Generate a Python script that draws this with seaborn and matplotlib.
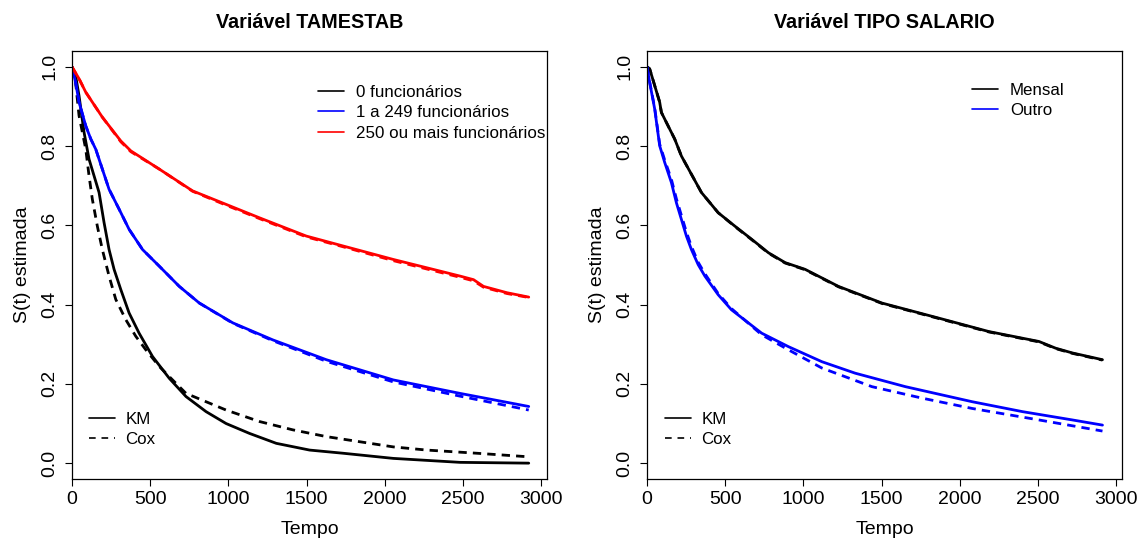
import numpy as np
import pandas as pd
import matplotlib
matplotlib.use("Agg")
import matplotlib.pyplot as plt
from matplotlib.lines import Line2D
import seaborn as sns

# ---------------- data ----------------
# Panel 1: TAMESTAB
t_km0 = [0, 23, 45, 77, 109, 173, 205, 237, 269, 312, 365, 429, 515, 622, 729, 857,
         985, 1135, 1306, 1519, 1733, 2054, 2481, 2920]
s_km0 = [1.0, 0.978, 0.927, 0.835, 0.767, 0.683, 0.607, 0.539, 0.489, 0.438, 0.379,
         0.328, 0.269, 0.214, 0.168, 0.130, 0.100, 0.075, 0.050, 0.033, 0.025, 0.012,
         0.002, 0.0]
t_cox0 = [0, 23, 45, 88, 109, 130, 162, 194, 237, 280, 344, 408, 472, 558, 643, 729,
          857, 985, 1199, 1412, 1626, 1840, 2054, 2268, 2588, 2920]
s_cox0 = [1.0, 0.961, 0.877, 0.792, 0.725, 0.666, 0.598, 0.539, 0.472, 0.413, 0.362,
          0.320, 0.286, 0.244, 0.210, 0.176, 0.155, 0.134, 0.105, 0.084, 0.067, 0.054,
          0.041, 0.033, 0.025, 0.016]

t_km1 = [0, 23, 45, 88, 120, 152, 194, 237, 301, 365, 451, 558, 686, 814, 1028, 1284,
         1626, 2054, 2481, 2920]
s_km1 = [1.0, 0.961, 0.911, 0.851, 0.818, 0.792, 0.742, 0.691, 0.641, 0.590, 0.539,
         0.497, 0.446, 0.404, 0.354, 0.311, 0.261, 0.210, 0.176, 0.143]
t_cox1 = t_km1
s_cox1 = [1.0, 0.961, 0.911, 0.851, 0.818, 0.792, 0.742, 0.691, 0.641, 0.590, 0.539,
          0.497, 0.446, 0.404, 0.353, 0.309, 0.257, 0.205, 0.169, 0.134]

t_km2 = [0, 45, 88, 194, 312, 376, 558, 771, 985, 1199, 1498, 1733, 2054, 2268, 2481,
         2567, 2631, 2781, 2920]
s_km2 = [1.0, 0.970, 0.936, 0.873, 0.813, 0.788, 0.742, 0.687, 0.653, 0.619, 0.573,
         0.548, 0.514, 0.493, 0.472, 0.463, 0.446, 0.430, 0.419]
t_cox2 = t_km2
s_cox2 = [1.0, 0.970, 0.936, 0.873, 0.811, 0.786, 0.742, 0.686, 0.651, 0.617, 0.571,
          0.546, 0.511, 0.490, 0.469, 0.460, 0.444, 0.428, 0.418]

# Panel 2: TIPO SALARIO
t_kmM = [0, 17, 49, 81, 92, 135, 177, 220, 284, 348, 455, 562, 669, 776, 883, 1011,
         1224, 1502, 1865, 2186, 2506, 2613, 2720, 2912]
s_kmM = [1.0, 0.995, 0.953, 0.911, 0.885, 0.851, 0.818, 0.775, 0.729, 0.683, 0.632,
         0.598, 0.565, 0.531, 0.506, 0.489, 0.446, 0.404, 0.366, 0.332, 0.307, 0.290,
         0.278, 0.261]
t_coxM = t_kmM
s_coxM = [1.0, 0.995, 0.953, 0.911, 0.885, 0.851, 0.818, 0.775, 0.729, 0.683, 0.632,
          0.597, 0.564, 0.530, 0.505, 0.488, 0.445, 0.403, 0.365, 0.331, 0.306, 0.289,
          0.277, 0.260]

t_kmO = [0, 17, 49, 81, 113, 156, 188, 220, 252, 284, 327, 370, 455, 540, 733, 904,
         1118, 1331, 1652, 2079, 2400, 2720, 2912]
s_kmO = [1.0, 0.961, 0.894, 0.801, 0.759, 0.708, 0.657, 0.615, 0.573, 0.539, 0.501,
         0.472, 0.425, 0.387, 0.328, 0.294, 0.256, 0.227, 0.193, 0.155, 0.130, 0.109,
         0.096]
t_coxO = [0, 17, 49, 81, 113, 156, 188, 220, 252, 284, 327, 370, 455, 540, 733, 904,
          1118, 1438, 1759, 2079, 2506, 2912]
s_coxO = [1.0, 0.962, 0.897, 0.805, 0.765, 0.716, 0.667, 0.625, 0.583, 0.547, 0.507,
          0.478, 0.428, 0.390, 0.324, 0.286, 0.240, 0.193, 0.164, 0.138, 0.109, 0.081]

groups1 = ["0 funcionários", "1 a 249 funcionários", "250 ou mais funcionários"]
colors1 = ["black", "blue", "red"]
groups2 = ["Mensal", "Outro"]
colors2 = ["black", "blue"]
methods = ["KM", "Cox"]

titles = ["Variável TAMESTAB", "Variável TIPO SALARIO"]
xticks = [0, 500, 1000, 1500, 2000, 2500, 3000]
yticks = [0.0, 0.2, 0.4, 0.6, 0.8, 1.0]


def long_df(series):
    rows = []
    for grp, meth, t, s in series:
        for ti, si in zip(t, s):
            rows.append({"Tempo": ti, "S": si, "grupo": grp, "metodo": meth})
    return pd.DataFrame(rows)


df1 = long_df([
    (groups1[0], "KM", t_km0, s_km0), (groups1[0], "Cox", t_cox0, s_cox0),
    (groups1[1], "KM", t_km1, s_km1), (groups1[1], "Cox", t_cox1, s_cox1),
    (groups1[2], "KM", t_km2, s_km2), (groups1[2], "Cox", t_cox2, s_cox2),
])
df2 = long_df([
    (groups2[0], "KM", t_kmM, s_kmM), (groups2[0], "Cox", t_coxM, s_coxM),
    (groups2[1], "KM", t_kmO, s_kmO), (groups2[1], "Cox", t_coxO, s_coxO),
])

# ---------------- style ----------------
sns.set_theme(style="white")
plt.rcParams["font.family"] = ["Liberation Sans", "DejaVu Sans"]
plt.rcParams["text.color"] = "black"
plt.rcParams["axes.labelcolor"] = "black"
plt.rcParams["xtick.color"] = "black"
plt.rcParams["ytick.color"] = "black"
plt.rcParams["axes.edgecolor"] = "black"

fig = plt.figure(figsize=(11.4, 5.39), dpi=100)
W, H = 1140, 539
ax1 = fig.add_axes([72 / W, 1 - 479 / H, 475 / W, 428 / H])
ax2 = fig.add_axes([647 / W, 1 - 479 / H, 475 / W, 428 / H])

dash_map = {"KM": "", "Cox": (3, 2.2)}
LEG_FS = 12.2

for ax, df, groups, colors, title, gx, gy, mx in [
    (ax1, df1, groups1, colors1, titles[0], 0.518, 0.921, 0.036),
    (ax2, df2, groups2, colors2, titles[1], 0.684, 0.926, 0.038),
]:
    sns.lineplot(data=df, x="Tempo", y="S", hue="grupo", style="metodo",
                 hue_order=groups, palette=colors, style_order=methods,
                 dashes=dash_map, estimator=None, sort=True, linewidth=2,
                 legend=False, ax=ax)
    ax.set_xlim(0, 2920 * 1.04)
    ax.set_ylim(-0.04, 1.04)
    ax.set_xticks(xticks)
    ax.set_yticks(yticks)
    ax.set_xticklabels([str(v) for v in xticks])
    ax.set_yticklabels([f"{v:.1f}" for v in yticks], rotation=90, va="center")
    ax.tick_params(axis="x", direction="out", length=5, width=0.8,
                   colors="black", labelsize=14, pad=4, bottom=True)
    ax.tick_params(axis="y", direction="out", length=5, width=0.8,
                   colors="black", labelsize=14, pad=5, left=True)
    for sp in ax.spines.values():
        sp.set_visible(True)
        sp.set_color("black")
        sp.set_linewidth(0.9)
    ax.set_xlabel("Tempo", fontsize=14, labelpad=9)
    ax.set_ylabel("S(t) estimada", fontsize=14, labelpad=7)
    ax.set_title(title, fontsize=14.2, fontweight="bold", pad=16.5)

    # group legend (top right)
    h_groups = [Line2D([], [], color=c, lw=1.2) for c in colors]
    lg = ax.legend(h_groups, groups, loc="upper left",
                   bbox_to_anchor=(gx, gy), frameon=False, fontsize=LEG_FS,
                   handlelength=1.55, handletextpad=0.7, labelspacing=0.33,
                   borderpad=0, borderaxespad=0)
    ax.add_artist(lg)

    # method legend (bottom left)
    h_meth = [Line2D([], [], color="black", lw=1.2, linestyle="-"),
              Line2D([], [], color="black", lw=1.2, linestyle=(0, (4, 3.5)))]
    ax.legend(h_meth, methods, loc="upper left",
              bbox_to_anchor=(mx, 0.157), frameon=False, fontsize=LEG_FS,
              handlelength=1.55, handletextpad=0.6, labelspacing=0.33,
              borderpad=0, borderaxespad=0)

fig.savefig("out.png", dpi=100)
